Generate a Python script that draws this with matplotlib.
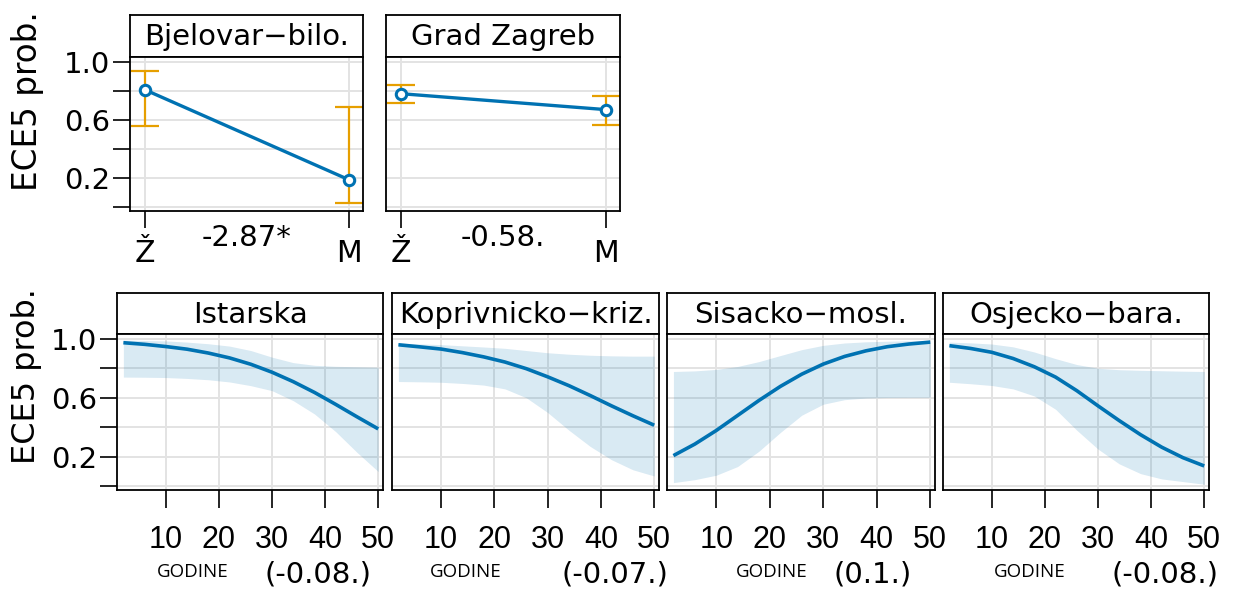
import matplotlib
matplotlib.use("Agg")
import matplotlib.pyplot as plt
from matplotlib.transforms import ScaledTranslation

# ---------------- data ----------------
sex_levels = ["Ž", "M"]
top_titles = ["Bjelovar−bilo.", "Grad Zagreb"]
top_est = [[0.806, 0.19], [0.78, 0.671]]
top_lo = [[0.555, 0.027], [0.719, 0.568]]
top_hi = [[0.938, 0.69], [0.842, 0.767]]
top_coef = ["-2.87*", "-0.58."]

ages = [2, 6, 10, 14, 18, 22, 26, 30, 34, 38, 42, 46, 50]
bottom_titles = ["Istarska", "Koprivnicko−kriz.", "Sisacko−mosl.", "Osjecko−bara."]
bottom_coef = ["(-0.08.)", "(-0.07.)", "(0.1.)", "(-0.08.)"]

istarska_fit = [0.973, 0.962, 0.947, 0.929, 0.903, 0.870, 0.827, 0.773, 0.709, 0.636, 0.555, 0.471, 0.389]
istarska_lo = [0.74, 0.739, 0.737, 0.731, 0.722, 0.707, 0.682, 0.648, 0.58, 0.49, 0.37, 0.23, 0.10]
istarska_hi = [0.99, 0.988, 0.985, 0.977, 0.966, 0.95, 0.92, 0.875, 0.838, 0.82, 0.813, 0.81, 0.807]

kopriv_fit = [0.959, 0.945, 0.930, 0.906, 0.877, 0.842, 0.797, 0.742, 0.682, 0.615, 0.545, 0.478, 0.414]
kopriv_lo = [0.71, 0.708, 0.705, 0.697, 0.686, 0.66, 0.60, 0.50, 0.38, 0.27, 0.18, 0.112, 0.07]
kopriv_hi = [0.97, 0.965, 0.96, 0.952, 0.944, 0.935, 0.92, 0.905, 0.895, 0.888, 0.884, 0.882, 0.882]

sisak_fit = [0.208, 0.286, 0.378, 0.480, 0.582, 0.677, 0.760, 0.828, 0.880, 0.918, 0.946, 0.964, 0.977]
sisak_lo = [0.025, 0.045, 0.075, 0.134, 0.238, 0.365, 0.482, 0.556, 0.587, 0.598, 0.602, 0.603, 0.603]
sisak_hi = [0.778, 0.782, 0.792, 0.812, 0.845, 0.886, 0.926, 0.955, 0.971, 0.979, 0.983, 0.986, 0.989]

osijek_fit = [0.953, 0.934, 0.908, 0.866, 0.810, 0.740, 0.648, 0.545, 0.445, 0.350, 0.265, 0.194, 0.138]
osijek_lo = [0.705, 0.695, 0.683, 0.66, 0.612, 0.522, 0.38, 0.252, 0.152, 0.086, 0.05, 0.032, 0.014]
osijek_hi = [0.977, 0.972, 0.964, 0.945, 0.91, 0.865, 0.825, 0.80, 0.79, 0.786, 0.783, 0.78, 0.778]

bottom_fit = [istarska_fit, kopriv_fit, sisak_fit, osijek_fit]
bottom_lo = [istarska_lo, kopriv_lo, sisak_lo, osijek_lo]
bottom_hi = [istarska_hi, kopriv_hi, sisak_hi, osijek_hi]

y_ticks = [0.0, 0.2, 0.4, 0.6, 0.8, 1.0]
y_ticklabels = ["", "0.2", "", "0.6", "", "1.0"]
x_ticks_age = [10, 20, 30, 40, 50]

# ---------------- style ----------------
W, H = 1234, 594
DPI = 100
BLUE = "#0072B2"
ORANGE = "#E69F00"
GRID = "#e3e3e3"
SPINE_LW = 1.3
FS = 21

plt.rcParams["font.family"] = ["DejaVu Sans"]
fig = plt.figure(figsize=(W / DPI, H / DPI), dpi=DPI, facecolor="white")


def ax_px(x0, y0, x1, y1, **kw):
    return fig.add_axes([x0 / W, 1 - y1 / H, (x1 - x0) / W, (y1 - y0) / H], **kw)


def make_strip(x0, y0, x1, y1, title):
    s = ax_px(x0, y0, x1, y1)
    s.set_xticks([])
    s.set_yticks([])
    s.set_facecolor("white")
    for sp in s.spines.values():
        sp.set_linewidth(SPINE_LW)
    s.text(0.5, 0.28, title, ha="center", va="baseline", fontsize=FS,
           transform=s.transAxes, clip_on=True)
    return s


def style_panel(ax):
    for sp in ax.spines.values():
        sp.set_linewidth(SPINE_LW)
    ax.set_axisbelow(True)
    ax.grid(True, color=GRID, lw=1.4)
    ax.set_ylim(-0.025, 1.032)
    ax.set_yticks(y_ticks)
    ax.tick_params(top=False, right=False)


# ---------------- top row ----------------
top_boxes = [(130, 363), (386, 620)]
for i, (x0, x1) in enumerate(top_boxes):
    make_strip(x0, 15, x1, 57, top_titles[i])
    ax = ax_px(x0, 57, x1, 211)
    style_panel(ax)
    xs = list(range(len(sex_levels)))
    ax.set_xlim(-0.075, 1.07)
    est = top_est[i]
    lo = top_lo[i]
    hi = top_hi[i]
    yerr = [[e - l for e, l in zip(est, lo)], [h - e for e, h in zip(est, hi)]]
    ax.errorbar(xs, est, yerr=yerr, fmt="none", ecolor=ORANGE, elinewidth=1.6,
                capsize=10, capthick=1.6, zorder=2)
    ax.plot(xs, est, color=BLUE, lw=2.4, marker="o", ms=7.5, mfc="white",
            mec=BLUE, mew=2.2, zorder=3)
    ax.set_xticks(xs)
    ax.set_xticklabels([""] * len(xs))
    ax.tick_params(axis="x", length=12, width=1.2, direction="out")
    if i == 0:
        ax.set_yticklabels(y_ticklabels)
        ax.tick_params(axis="y", length=12, width=1.2, pad=2, labelsize=FS)
    else:
        ax.set_yticklabels([])
        ax.tick_params(axis="y", left=False, labelleft=False)
    # tick labels placed on a common baseline
    tr = ax.get_xaxis_transform() + ScaledTranslation(0, -51 / DPI, fig.dpi_scale_trans)
    for xv, lab in zip(xs, sex_levels):
        ax.text(xv, 0, lab, transform=tr, ha="center", va="baseline", fontsize=FS + 0.5,
                clip_on=False)
    fig.text((x0 + x1) / 2 / W, 1 - 246 / H, top_coef[i], ha="center", va="baseline",
             fontsize=FS)

fig.text(28 / W, 1 - 101 / H, "ECE5 prob.", rotation=90, ha="center", va="center",
         fontsize=23.5)

# ---------------- bottom row ----------------
bottom_boxes = [(117, 383), (392, 659), (667, 935), (943, 1209)]
godine_x = [193, 466, 772, 1030]
coef_x = [318, 615, 873, 1165]
for i, (x0, x1) in enumerate(bottom_boxes):
    make_strip(x0, 293, x1, 334, bottom_titles[i])
    ax = ax_px(x0, 334, x1, 490)
    style_panel(ax)
    ax.set_xlim(0.8, 50.9)
    ax.fill_between(ages, bottom_lo[i], bottom_hi[i], color=BLUE, alpha=0.15, lw=0,
                    zorder=2)
    ax.plot(ages, bottom_fit[i], color=BLUE, lw=2.6, zorder=3, solid_capstyle="butt",
            solid_joinstyle="round")
    ax.set_xticks(x_ticks_age)
    ax.set_xticklabels([str(v) for v in x_ticks_age], fontfamily="Liberation Sans",
                       fontsize=22)
    ax.tick_params(axis="x", length=13, width=1.2, pad=12)
    if i == 0:
        ax.set_yticklabels(y_ticklabels)
        ax.tick_params(axis="y", length=12, width=1.2, pad=2, labelsize=FS)
    else:
        ax.set_yticklabels([])
        ax.tick_params(axis="y", left=False, labelleft=False)
    fig.text(godine_x[i] / W, 1 - 577 / H, "GODINE", ha="center", va="baseline",
             fontsize=13.5, fontfamily="Open Sans")
    fig.text(coef_x[i] / W, 1 - 583 / H, bottom_coef[i], ha="center", va="baseline",
             fontsize=FS)

fig.text(27 / W, 1 - 376 / H, "ECE5 prob.", rotation=90, ha="center", va="center",
         fontsize=23)

fig.savefig("out.png", dpi=DPI, facecolor="white")
